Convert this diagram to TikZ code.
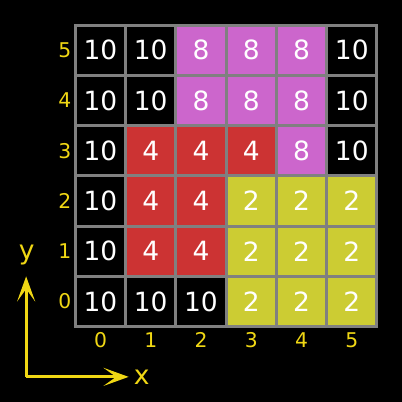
\documentclass[tikz,border=0pt]{standalone}
\usepackage{fontspec}
\setmainfont{DejaVu Sans}
\usepackage{tikz}
\usetikzlibrary{arrows.meta, positioning, calc}
\definecolor{col10}{RGB}{0,0,0}
\definecolor{col8}{RGB}{204,102,204}
\definecolor{col4}{RGB}{204,51,51}
\definecolor{col2}{RGB}{204,204,51}
\definecolor{gridgray}{RGB}{128,128,128}
\definecolor{labyellow}{RGB}{240,215,20}

\begin{document}
\begin{tikzpicture}[
  cell/.style={draw=gridgray, line width=1.6pt, minimum size=1cm, inner sep=0pt, text=white, font=\fontsize{15}{15}\selectfont},
  idx/.style={text=labyellow, font=\fontsize{11.5}{11.5}\selectfont, inner sep=0pt},
  axis/.style={draw=labyellow, line width=1.6pt, -{Stealth[length=0.5cm, width=0.36cm, inset=0.25cm]}}
]

\fill[black] (0,0) rectangle (8,8);
\useasboundingbox (0,0) rectangle (8,8);

% cells, bottom row first
\foreach \row [count=\y from 0] in {{10,10,10,2,2,2},{10,4,4,2,2,2},{10,4,4,2,2,2},{10,4,4,4,8,10},{10,10,8,8,8,10},{10,10,8,8,8,10}} {
  \foreach \v [count=\x from 0] in \row {
    \node[cell, fill=col\v] (c\x\y) at (\x+2,\y+2) {\v};
  }
}

% indices
\foreach \i in {0,...,5} {
  \node[idx] (row\i) at (1.29,\i+2) {\i};
  \node[idx] (col\i) at (\i+2,1.23) {\i};
}

% axes
\coordinate (o) at (0.52,0.5);
\coordinate (yend) at (0.52,2.5);
\coordinate (xend) at (2.56,0.5);
\draw[axis] (o) -- (yend);
\draw[axis] (o) -- (xend);
\node[idx, font=\fontsize{15}{15}\selectfont] (ylab) at (0.53,2.92) {y};
\node[idx, font=\fontsize{15}{15}\selectfont] (xlab) at (2.82,0.5) {x};

\end{tikzpicture}
\end{document}
